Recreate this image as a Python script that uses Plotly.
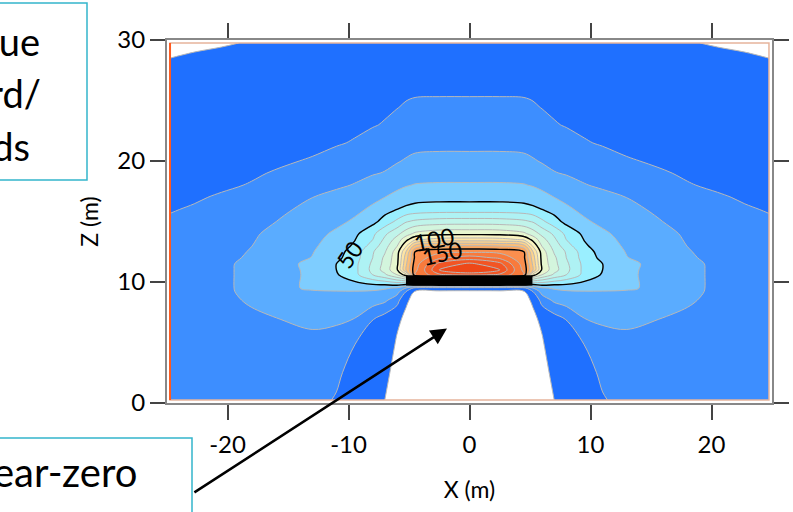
import plotly.graph_objects as go

# ---- data (half field, mirrored about X = 0) ----
x_half = [0, 2.5, 4.5, 5.25, 6, 7, 8, 9.5, 11, 13, 15.5, 18, 20.5, 22.75, 24.75]
z_rows = [0.25, 2.5, 5, 7, 8.5, 9.2, 9.5, 10.6, 11, 11.5, 12, 12.5, 13, 13.5, 14,
          15, 16, 17, 18, 19, 20, 21.5, 23, 24.5, 26, 27.5, 29, 29.75]

field_half = [
    [3, 3.5, 5, 6, 7.5, 10, 12.5, 16, 19.5, 22, 23.5, 24.5, 25, 25.2, 25.3],
    [3.5, 4, 6, 7.2, 8.6, 11, 13.8, 17.6, 21.2, 23.5, 25, 25.8, 26.2, 26.3, 26.3],
    [4, 4.5, 6.8, 8.2, 9.6, 12.6, 15.8, 20.3, 24, 26.5, 27.6, 28, 28, 27.8, 27.5],
    [5, 5.5, 8, 9.3, 10.8, 16, 20.5, 30, 32.5, 33, 30.2, 28.5, 28.0, 27.6, 27.3],
    [6, 6.5, 9, 10.5, 24, 32, 35, 37, 37.5, 37, 35, 31, 28.0, 27.2, 26.8],
    [8.2, 8.5, 9.0, 20, 34, 38, 39, 39.5, 39.5, 39.3, 37.5, 32.5, 28.0, 26.8, 26.3],
    [15, 15, 17, 30, 39, 41, 42.5, 43, 42.5, 41, 38.5, 32.8, 28.0, 26.8, 26.3],
    [185, 178, 160, 105, 90, 78, 70, 57, 49, 41.5, 37.5, 32.8, 28.0, 26.8, 26.3],
    [198, 190, 157, 130, 98, 84, 73, 57, 50, 42, 37, 32.8, 28.0, 26.8, 26.2],
    [192, 183, 155, 128, 97, 83, 72, 57, 50, 42.5, 37, 32.6, 28.0, 26.7, 26.1],
    [175, 168, 152, 125, 96, 82, 70, 55.5, 47.5, 40.3, 36, 31.3, 27.5, 26.3, 25.7],
    [158, 157, 150, 120, 95, 79, 69, 54.5, 46, 39.5, 35.5, 30.6, 27, 25.8, 25.3],
    [140, 139, 133, 108, 89, 76, 64, 51.5, 44.5, 38.5, 34.8, 29.9, 26.5, 25.2, 24.7],
    [115, 114, 109, 97, 84, 72, 60, 49.5, 43, 37.7, 34, 29.3, 26, 24.8, 24.2],
    [97, 96.5, 92, 85, 77, 68, 57.5, 47.5, 41.5, 37, 33.2, 28.7, 25.5, 24.2, 23.6],
    [75, 74.5, 72, 69, 62, 54, 47, 41.2, 38, 34.8, 30.8, 26.5, 23.6, 21.9, 20.8],
    [55, 55, 54, 52.3, 50, 46.5, 41.5, 38, 35.5, 32.5, 28.6, 25, 22.3, 20.6, 19.6],
    [47, 47, 46.2, 45, 42.8, 40, 38, 35.5, 32.8, 29.9, 26.5, 23.3, 20.7, 19.3, 18.3],
    [41, 41, 40.5, 39.4, 37.8, 35.8, 34, 30.5, 28.5, 26.2, 23, 20.4, 19, 18, 17.2],
    [36.5, 36.5, 35.9, 34.6, 32.5, 30.5, 29.2, 27.4, 25.6, 23.6, 20.8, 19.2, 18, 17, 16.2],
    [32, 32, 31.6, 30.7, 29.4, 27.5, 26, 24.3, 22.6, 20.6, 19.2, 17.9, 16.8, 15.9, 15.2],
    [28.2, 28.2, 27.9, 26.8, 25, 23.4, 22.2, 20.5, 19.4, 18.2, 17, 15.9, 15, 14.2, 13.6],
    [24.5, 24.5, 24.3, 23.6, 22, 20.4, 19.6, 18.6, 17.7, 16.6, 15.5, 14.5, 13.7, 13, 12.5],
    [21.2, 21.2, 21.1, 20.6, 19.7, 19, 18.4, 17.5, 16.7, 15.7, 14.6, 13.7, 12.9, 12.3, 11.8],
    [19, 19, 18.9, 18.6, 18.1, 17.6, 17.1, 16.4, 15.7, 14.8, 13.8, 13, 12.3, 11.8, 11.3],
    [16.6, 16.6, 16.5, 16.3, 16, 15.6, 15.2, 14.6, 14, 13.2, 12.4, 11.7, 11.2, 10.9, 10.6],
    [14.9, 14.9, 14.8, 14.7, 14.5, 14.3, 14.1, 13.6, 13.1, 12.4, 11.6, 10.9, 10.5, 10.0, 9.7],
    [14, 14, 14, 13.9, 13.8, 13.6, 13.4, 13, 12.5, 11.9, 11.1, 10.3, 9.6, 9.0, 8.5],
]

level_start, level_end, level_step = 10, 190, 10
labelled_levels = (50, 150, 50)
# contour label text and where it sits on its line (x, z, angle)
label_text = ['50', '100', '150']
label_x = [-9.9, -2.9, -2.3]
label_z = [12.3, 13.55, 12.4]
label_angle = [-55, -12, -12]

band_colors = ['#ffffff', '#1f70ff', '#3d8eff', '#5aacff', '#7ecdff', '#9aefff',
               '#aef2f4', '#c0f4ea', '#d3f5dd', '#e7f6cf', '#fbf3bf', '#fde5a5',
               '#fdd38c', '#fdbf78', '#fca862', '#fb8f4e', '#f87a3c', '#f5662e',
               '#f25524', '#ee4818']

plate_x = [-5.25, 5.2]
plate_z = [9.72, 10.55]

x_ticks = [-20, -10, 0, 10, 20]
x_ticktext = ['-20', '-10', '0', '10', '20']
z_ticks = [0, 10, 20, 30]

arrow_tip = (-1.86, 6.15)
arrow_tail = (-22.86, -7.47)

# ---- build full symmetric grid ----
x_full = [-v for v in reversed(x_half[1:])] + x_half
field = [list(reversed(r[1:])) + r for r in field_half]

n = len(band_colors)
colorscale = [[k / (n - 1), c] for k, c in enumerate(band_colors)]

FONT = 'Lato'

fig = go.Figure()
fig.add_trace(go.Contour(
    x=x_full, y=z_rows, z=field,
    contours=dict(start=level_start, end=level_end, size=level_step,
                  coloring='fill', showlines=True),
    line=dict(color='#b8b8b8', width=1, smoothing=1),
    colorscale=colorscale, showscale=False, hoverinfo='skip'))
fig.add_trace(go.Contour(
    x=x_full, y=z_rows, z=field,
    contours=dict(start=labelled_levels[0], end=labelled_levels[1], size=labelled_levels[2],
                  coloring='none', showlabels=False),
    line=dict(color='black', width=1.4, smoothing=1),
    showscale=False, hoverinfo='skip'))

xmin, xmax = -x_half[-1], x_half[-1]
shapes = [
    dict(type='rect', xref='x', yref='y', x0=xmin, x1=xmax, y0=z_rows[0], y1=z_rows[-1],
         line=dict(color='#e6b49c', width=1.5), layer='above'),
    dict(type='line', xref='x', yref='y', x0=xmin, x1=xmin, y0=z_rows[0], y1=z_rows[-1],
         line=dict(color='#ff5a1f', width=2), layer='above'),
    dict(type='rect', xref='x', yref='y', x0=plate_x[0], x1=plate_x[1],
         y0=plate_z[0], y1=plate_z[1], fillcolor='black', line=dict(width=0), layer='above'),
]

L, R, T, B, W, H = 167, 21, 40, 109, 793, 512
pw, ph = W - L - R, H - T - B
def px(xp):
    return (xp - L) / pw
def py(yp):
    return (H - B - yp) / ph

shapes += [
    dict(type='rect', xref='paper', yref='paper', x0=px(-150), x1=px(87), y0=py(180), y1=py(3),
         line=dict(color='#33b5cc', width=1.5), fillcolor='white', layer='above'),
    dict(type='rect', xref='paper', yref='paper', x0=px(-150), x1=px(192), y0=py(600), y1=py(438),
         line=dict(color='#33b5cc', width=1.5), fillcolor='white', layer='above'),
]

big = dict(family=FONT, size=38, color='black')
annotations = [
    dict(xref='paper', yref='paper', x=px(42), y=py(41), text='Red to blue', showarrow=False,
         xanchor='right', yanchor='middle', font=big),
    dict(xref='paper', yref='paper', x=px(43), y=py(93), text='= forward/', showarrow=False,
         xanchor='right', yanchor='middle', font=big),
    dict(xref='paper', yref='paper', x=px(32), y=py(146), text='backwards', showarrow=False,
         xanchor='right', yanchor='middle', font=big),
    dict(xref='paper', yref='paper', x=px(139), y=py(472), text='Near-zero',
         showarrow=False, xanchor='right', yanchor='middle',
         font=dict(family=FONT, size=40, color='black')),
    dict(xref='paper', yref='paper', x=px(0), y=py(528), text='inner zone', showarrow=False,
         xanchor='left', yanchor='middle', font=dict(family=FONT, size=40, color='black')),
    dict(xref='x', yref='y', axref='x', ayref='y', x=arrow_tip[0], y=arrow_tip[1],
         ax=arrow_tail[0], ay=arrow_tail[1], text='', showarrow=True,
         arrowhead=2, arrowsize=1.3, arrowwidth=2.5, arrowcolor='black'),
]
for t, lx, lz, ang in zip(label_text, label_x, label_z, label_angle):
    annotations.append(dict(xref='x', yref='y', x=lx, y=lz, text=t, showarrow=False,
                            textangle=ang, font=dict(family=FONT, size=23, color='black')))

axis_common = dict(ticks='outside', ticklen=15, tickwidth=2, tickcolor='#444',
                   showline=True, linecolor='#888', linewidth=2, mirror='ticks',
                   showgrid=False, zeroline=False, automargin=False,
                   tickfont=dict(family=FONT, size=24, color='black'))

fig.update_layout(
    width=W, height=H, margin=dict(l=L, r=R, t=T, b=B, autoexpand=False),
    paper_bgcolor='white', plot_bgcolor='white', showlegend=False,
    xaxis=dict(range=[-25, 25], tickvals=x_ticks, ticktext=x_ticktext, ticklabelstandoff=4,
               title=dict(text='X (m)', font=dict(family=FONT, size=23, color='black'), standoff=25),
               **axis_common),
    yaxis=dict(range=[0, 30], tickvals=z_ticks, ticklabelstandoff=0,
               title=dict(text='Z (m)', font=dict(family=FONT, size=23, color='black'), standoff=12),
               **axis_common),
    shapes=shapes, annotations=annotations,
)

fig.write_html('out.html')
